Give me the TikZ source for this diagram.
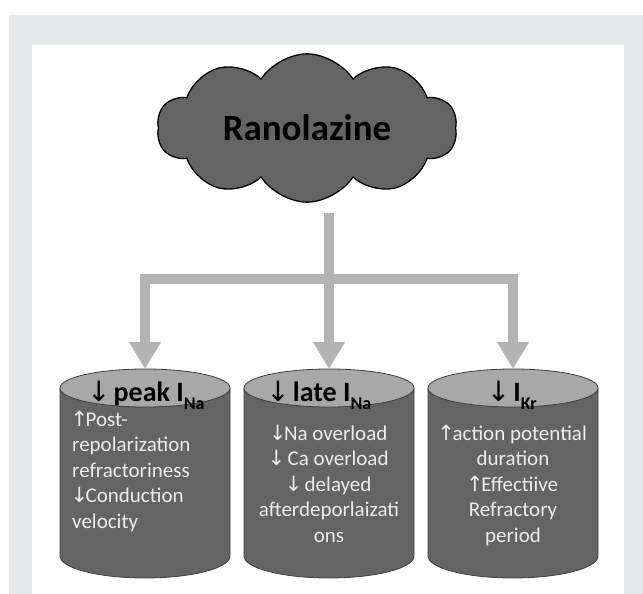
\documentclass[tikz,border=0pt]{standalone}
\usepackage{fontspec}
\setmainfont{Carlito}
\newfontfamily\arrowfont{DejaVu Sans}
\usepackage{tikz}
\usetikzlibrary{positioning, arrows.meta, shapes.symbols}
\definecolor{frameGray}{HTML}{E6E7E8}
\definecolor{darkFill}{HTML}{646464}
\definecolor{capFill}{HTML}{A8A8A8}
\definecolor{linkGray}{HTML}{B3B3B3}
\definecolor{lightText}{HTML}{EDEDED}
\newcommand{\ionsub}[1]{\raisebox{-0.65ex}{\fontsize{18}{18}\selectfont #1}}
\newcommand{\dn}{{\arrowfont\mdseries\kern-0.08em↓\kern-0.12em}}
\newcommand{\up}{{\arrowfont\mdseries\kern-0.08em↑\kern-0.12em}}

\begin{document}
\begin{tikzpicture}[x=1pt, y=-1pt,
    drumline/.style={draw=black!75, line width=0.8pt},
    drumhead/.style={anchor=base, inner sep=0pt, font=\fontsize{28}{32}\selectfont\bfseries},
    drumtext/.style={anchor=base, inner sep=0pt, text=lightText, font=\fontsize{21}{25.5}\selectfont},
    link/.style={linkGray, line width=10pt},
    linkarrow/.style={link, -{Triangle[width=30pt, length=27pt]}}]
  \useasboundingbox (0,0) rectangle (643,594);
  % Frame
  \fill[frameGray] (9,15) rectangle (643,594);
  \fill[white] (32,45) rectangle (624,594);
  % Cloud
  \node[cloud, cloud puffs=10, cloud puff arc=115, aspect=2.1, draw=black, line width=1.3pt,
    fill=darkFill, minimum width=300pt, minimum height=145pt, inner sep=0pt,
    font=\fontsize{37}{40}\selectfont\bfseries] (drug) at (307,128) {Ranolazine};
  % Cylinders
  \foreach \cx/\name in {145/peak, 329/late, 513/kr} {
    \filldraw[drumline, fill=darkFill] (\cx-85,388) -- (\cx-85,556)
      arc[start angle=180, end angle=0, x radius=85, y radius=22] -- (\cx+85,388) -- cycle;
    \filldraw[drumline, fill=capFill] (\cx,388) ellipse [x radius=85, y radius=19];
    \coordinate (\name) at (\cx,369);
  }
  % Headers
  \node[drumhead] (peakhead) at (147,401) {\dn\ peak I\ionsub{Na}};
  \node[drumhead] (latehead) at (320,401) {\dn\ late I\ionsub{Na}};
  \node[drumhead] (krhead) at (513,401) {\dn\ I\ionsub{Kr}};
  % Effects
  \node[drumtext, anchor=base west, align=left] (peaktext) at (72,528)
    {\up Post-\\repolarization\\refractoriness\\\dn Conduction\\velocity};
  \node[drumtext, align=center] (latetext) at (329,542)
    {\dn Na overload\\\dn\ Ca overload\\\dn\ delayed\\afterdeporlaizati\\ons};
  \node[drumtext, align=center] (krtext) at (513,542)
    {\up action potential\\duration\\\up Effectiive\\Refractory\\period};
  % Links
  \coordinate (stemtop) at (329,213);
  \coordinate (split) at (329,279);
  \draw[link] (stemtop) -- (split);
  \draw[linkarrow] (split) -| (peak);
  \draw[linkarrow] (split) -- (late);
  \draw[linkarrow] (split) -| (kr);
\end{tikzpicture}
\end{document}
